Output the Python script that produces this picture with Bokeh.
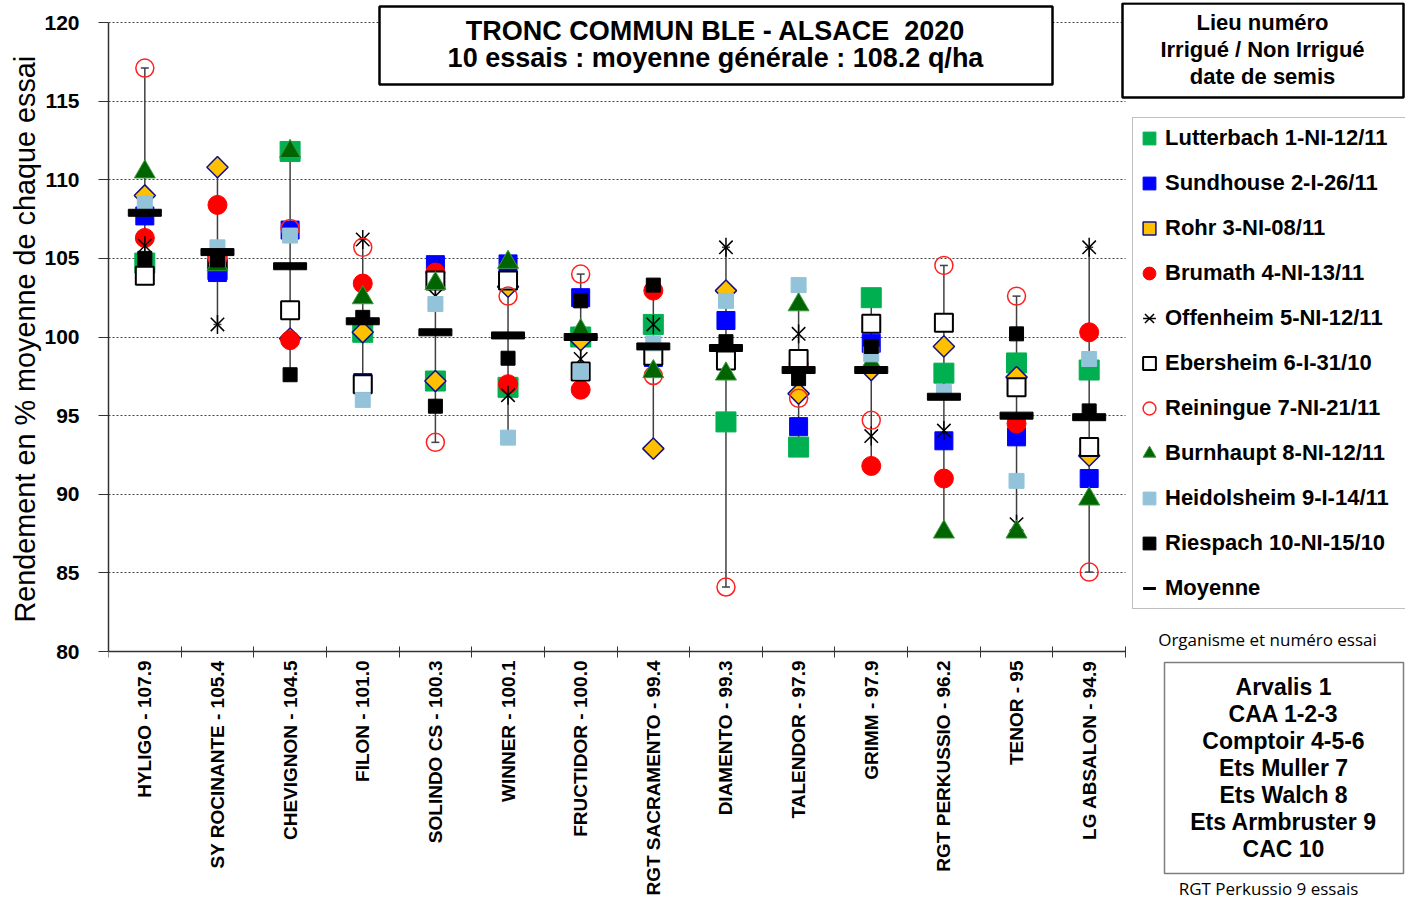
import math
from bokeh.plotting import figure
from bokeh.models import (FixedTicker, Legend, LegendItem, Label, BoxAnnotation, Range1d, Grid, Title)
from bokeh.embed import file_html
from bokeh.resources import INLINE

NaN = float("nan")

varieties = ["HYLIGO", "SY ROCINANTE", "CHEVIGNON", "FILON", "SOLINDO CS", "WINNER",
             "FRUCTIDOR", "RGT SACRAMENTO", "DIAMENTO", "TALENDOR", "GRIMM",
             "RGT PERKUSSIO", "TENOR", "LG ABSALON"]
mean_labels = ["107.9", "105.4", "104.5", "101.0", "100.3", "100.1", "100.0", "99.4",
               "99.3", "97.9", "97.9", "96.2", "95", "94.9"]
means = [107.9, 105.4, 104.5, 101.0, 100.3, 100.1, 100.0, 99.4, 99.3, 97.9, 97.9, 96.2, 95.0, 94.9]

lutterbach = [104.7, 104.3, 111.8, 100.3, 97.2, 96.8, 100.0, 100.8, 94.6, 93.0, 102.5, 97.7, 98.35, 97.9]
sundhouse = [107.7, 104.1, 106.8, 97.1, 104.6, 104.65, 102.5, 98.7, 101.05, 94.3, 99.6, 93.4, 93.65, 91.0]
rohr = [109.0, 110.8, 99.9, 100.3, 97.2, 103.2, 99.8, 92.9, 102.95, 96.4, 97.9, 99.4, 97.45, 92.45]
brumath = [106.3, 108.4, 99.8, 103.4, 104.1, 97.0, 96.65, 102.95, NaN, 98.3, 91.8, 91.0, 94.5, 100.3]
offenheim = [105.8, 100.8, 101.7, 106.2, 102.6, 96.3, 98.6, 100.8, 105.7, 100.2, 93.7, 94.05, 88.1, 105.7]
ebersheim = [103.9, 104.9, 101.7, 97.0, 103.6, 103.6, 97.8, 98.8, 98.5, 98.6, 100.85, 100.9, 96.8, 93.0]
reiningue = [117.1, 105.0, 106.9, 105.7, 93.3, 102.6, 104.0, 97.55, 84.1, 96.1, 94.7, 104.55, 102.6, 85.05]
burnhaupt = [110.5, 104.6, 111.8, 102.5, 103.4, 104.75, 100.4, 97.8, 97.65, 102.05, 98.3, 87.6, 87.6, 89.7]
heidolsheim = [108.5, 105.7, 106.45, 96.0, 102.1, 93.6, 97.8, 99.6, 102.3, 103.3, 98.9, 96.5, 90.85, 98.6]
riespach = [105.0, 104.9, 97.6, 101.25, 95.6, 98.65, 102.3, 103.3, 99.7, 97.35, 99.4, NaN, 100.2, 95.3]

series_names = ["Lutterbach 1-NI-12/11", "Sundhouse 2-I-26/11", "Rohr 3-NI-08/11",
                "Brumath 4-NI-13/11", "Offenheim 5-NI-12/11", "Ebersheim 6-I-31/10",
                "Reiningue 7-NI-21/11", "Burnhaupt 8-NI-12/11", "Heidolsheim 9-I-14/11",
                "Riespach 10-NI-15/10", "Moyenne"]

y_title = "Rendement en % moyenne de chaque essai"
title_lines = ["TRONC COMMUN BLE - ALSACE \u00a02020", "10 essais : moyenne générale : 108.2 q/ha"]
header_lines = ["Lieu numéro", "Irrigué / Non Irrigué", "date de semis"]
org_lines = ["Arvalis 1", "CAA 1-2-3", "Comptoir 4-5-6", "Ets Muller 7", "Ets Walch 8",
             "Ets Armbruster 9", "CAC 10"]
yticks = [80, 85, 90, 95, 100, 105, 110, 115, 120]

FONT = "Liberation Sans"
W, H = 1405, 899
LEFT, TOP = 108, 2
PX_CAT = (1125 - 108) / 14.0      # px per category
PX_UNIT = (651 - 22) / 40.0       # px per y unit

x = list(range(len(varieties)))
all_series = [lutterbach, sundhouse, rohr, brumath, offenheim, ebersheim, reiningue,
              burnhaupt, heidolsheim, riespach]
lo = [min(v for v in col if v == v) for col in zip(*all_series)]
hi = [max(v for v in col if v == v) for col in zip(*all_series)]

x_end = -0.5 + (W - LEFT) / PX_CAT
y_top = 120 + (22 - TOP) / PX_UNIT
y_bot = 120 - (H - 22) / PX_UNIT

p = figure(width=W, height=H, x_range=Range1d(-0.5, x_end), y_range=Range1d(y_bot, y_top),
           output_backend="svg", toolbar_location=None, title=None,
           min_border_left=LEFT, min_border_right=0, min_border_top=TOP, min_border_bottom=0)
p.outline_line_color = None
p.background_fill_color = "white"
p.border_fill_color = "white"

# y axis
p.yaxis.ticker = FixedTicker(ticks=yticks)
p.yaxis.bounds = (80, 120)
p.yaxis.major_label_text_font = FONT
p.yaxis.major_label_text_font_style = "bold"
p.yaxis.major_label_text_font_size = "21px"
p.yaxis.major_label_text_color = "black"
p.yaxis.major_tick_out = 10
p.yaxis.major_tick_in = 0
p.yaxis.minor_tick_line_color = None
p.yaxis.major_label_standoff = 19
p.yaxis.axis_line_color = "#333333"
p.yaxis.axis_line_width = 1.5
p.yaxis.major_tick_line_color = "#333333"

# y axis title, placed in the left border and aligned with the 80..120 span
p.add_layout(Title(text=y_title, align="left", offset=H - 622, vertical_align="middle",
                   text_font=FONT, text_font_size="28.8px", text_font_style="normal",
                   text_color="black", standoff=0), "left")

# x axis, fixed at y = 80
p.xaxis.fixed_location = 80
p.xaxis.bounds = (-0.5, 13.5)
p.xaxis.ticker = FixedTicker(ticks=x, minor_ticks=[i - 0.5 for i in range(len(varieties) + 1)])
p.xaxis.major_label_overrides = {i: f"{v} - {m}" for i, (v, m) in enumerate(zip(varieties, mean_labels))}
p.xaxis.major_label_orientation = math.pi / 2
p.xaxis.major_label_text_font = FONT
p.xaxis.major_label_text_font_style = "bold"
p.xaxis.major_label_text_font_size = "19px"
p.xaxis.major_label_text_color = "black"
p.xaxis.major_tick_line_color = None
p.xaxis.major_tick_out = 0
p.xaxis.major_tick_in = 0
p.xaxis.major_label_standoff = 3
p.xaxis.minor_tick_line_color = "#333333"
p.xaxis.minor_tick_in = 5
p.xaxis.minor_tick_out = 6
p.xaxis.axis_line_color = "#333333"
p.xaxis.axis_line_width = 1.5

# grid
p.xgrid.visible = False
grid_ticks = [t for t in yticks if t > 80]
if "cross_bounds" in Grid.properties():
    p.ygrid.ticker = FixedTicker(ticks=grid_ticks)
    p.ygrid.cross_bounds = (-0.5, 13.5)
    p.ygrid.grid_line_color = "#444444"
    p.ygrid.grid_line_dash = "2 2"
    p.ygrid.grid_line_width = 1
else:
    p.ygrid.visible = False
    p.segment(x0=[-0.5] * len(grid_ticks), y0=grid_ticks, x1=[13.5] * len(grid_ticks), y1=grid_ticks,
              line_color="#444444", line_dash="2 2", line_width=1)

# error bars (min-max)
p.segment(x0=x, y0=lo, x1=x, y1=hi, line_color="#404040", line_width=1.5)
p.scatter(x + x, lo + hi, marker="dash", size=8, line_color="#404040", line_width=1.5)

styles = [
    dict(marker="square", size=20, fill_color="#00B050", line_color="#00B050"),
    dict(marker="square", size=18, fill_color="#0000FF", line_color="#0000FF"),
    dict(marker="square", angle=math.pi / 4, size=15, fill_color="#FFC000", line_color="#10108A", line_width=1.5),
    dict(marker="circle", size=19, fill_color="#FF0000", line_color="#FF0000"),
    dict(marker="x", size=19, line_color="black", line_width=1.5),
    dict(marker="square", size=18, fill_color="white", line_color="black", line_width=2),
    dict(marker="circle", size=18, fill_alpha=0, line_color="#FF2020", line_width=1.5),
    dict(marker="triangle", size=21, fill_color="#006400", line_color="#3C9A3C", line_width=1),
    dict(marker="square", size=15, fill_color="#93C3D9", line_color="#93C3D9"),
    dict(marker="square", size=14, fill_color="black", line_color="black"),
]
items = []
for name, s, st in zip(series_names[:-1], all_series, styles):
    rs = [p.scatter(x, s, **st)]
    if st["marker"] == "x":
        rs.append(p.scatter(x, s, marker="dash", angle=math.pi / 2, size=19,
                            line_color="black", line_width=1.5))
    items.append(LegendItem(label=name, renderers=rs))
p.rect(x, means, width=33, height=7, width_units="screen", height_units="screen",
       fill_color="black", line_color="black")
rmean = p.scatter([NaN], [NaN], marker="dash", line_color="black", line_width=3)
items.append(LegendItem(label=series_names[-1], renderers=[rmean]))

# annotations: frame-relative screen coords (frame spans x 108..W, y 2..H)
def sx(px):
    return px - LEFT

def sy(py):
    return H - py

def box(l, t, r, b, lw, lc):
    p.add_layout(BoxAnnotation(left=sx(l), right=sx(r), top=sy(t), bottom=sy(b),
                               left_units="screen", right_units="screen",
                               top_units="screen", bottom_units="screen",
                               fill_color="white", fill_alpha=1, line_color=lc, line_alpha=1,
                               line_width=lw))

def text(px, py, t, size, bold=True, font=FONT):
    p.add_layout(Label(x=sx(px), y=sy(py), x_units="screen", y_units="screen", text=t,
                       text_align="center", text_baseline="middle", text_font=font,
                       text_font_style="bold" if bold else "normal",
                       text_font_size=size, text_color="black"))

box(379, 6, 1052, 84, 2.5, "black")
for i, t in enumerate(title_lines):
    text(715, 30 + 27 * i, t, "27px")

box(1122, 3, 1403, 97, 2.5, "black")
for i, t in enumerate(header_lines):
    text(1262, 22 + 27 * i, t, "22px")

legend = Legend(items=items, location=(sx(1132), sy(609)), margin=0, padding=0, spacing=5,
                glyph_width=32, glyph_height=40, label_standoff=0, label_width=240, label_height=20,
                label_text_font=FONT, label_text_font_style="bold", label_text_font_size="22px",
                label_text_color="black",
                border_line_color="#7F7F7F", border_line_width=1.5,
                background_fill_color="white", background_fill_alpha=1)
p.add_layout(legend)

text(1267, 639, "Organisme et numéro essai", "17px", bold=False, font="Open Sans")
box(1164, 662, 1403, 873, 1.5, "#7F7F7F")
for i, t in enumerate(org_lines):
    text(1283, 686 + 27 * i, t, "23px")
text(1268, 888, "RGT Perkussio 9 essais", "17px", bold=False, font="Open Sans")

open("out.html", "w").write(file_html(p, INLINE))
